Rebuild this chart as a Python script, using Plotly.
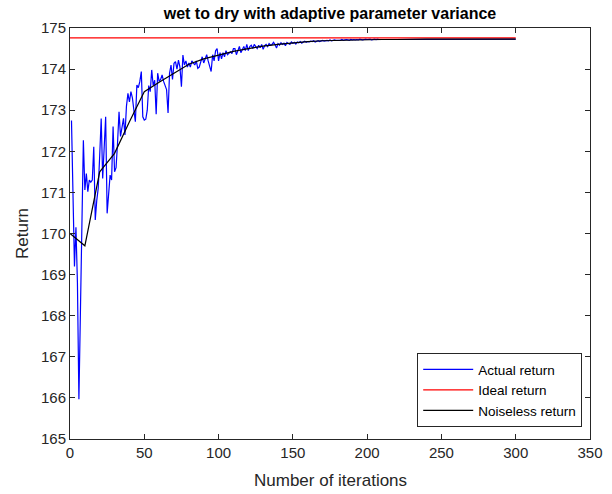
import plotly.graph_objects as go

# Actual (noisy) return per iteration, iterations 1..300
iterations = list(range(1, 301))
actual_return = [
    172.75, 171.0, 169.2, 170.15, 168.8, 165.97, 168.1, 170.2, 172.27, 171.06,
    171.46, 171.02, 171.3, 171.25, 171.3, 172.11, 170.33, 170.8, 171.1, 171.9,
    172.8, 171.34, 172.1, 172.84, 170.49, 171.0, 171.42, 171.3, 172.6, 171.5,
    171.6, 172.2, 172.96, 172.36, 172.56, 172.8, 172.4, 173.1, 173.41, 173.2,
    173.45, 173.3, 173.0, 172.72, 173.61, 173.55, 173.7, 173.94, 172.84, 172.76,
    172.78, 173.0, 173.6, 173.45, 173.98, 173.6, 173.73, 172.9, 173.9, 173.7,
    173.75, 173.86, 173.7, 173.6, 173.5, 172.93, 173.9, 174.1, 173.75, 174.14,
    174.18, 174.0, 174.22, 174.05, 173.57, 174.34, 174.1, 174.2, 174.05, 174.15,
    174.05, 174.2, 174.15, 174.1, 174.2, 174.02, 174.05, 174.2, 174.3, 174.15,
    174.25, 174.35, 174.2, 174.05, 173.94, 174.35, 174.2, 174.45, 174.5, 174.2,
    174.4, 174.25, 174.4, 174.3, 174.45, 174.35, 174.4, 174.42, 174.38, 174.5,
    174.5, 174.35, 174.45, 174.55, 174.4, 174.5, 174.55, 174.45, 174.6, 174.45,
    174.55, 174.58, 174.5, 174.6, 174.55, 174.5, 174.58, 174.52, 174.6, 174.48,
    174.57, 174.6, 174.55, 174.62, 174.58, 174.6, 174.65, 174.6, 174.51, 174.62,
    174.58, 174.64, 174.6, 174.63, 174.57, 174.65, 174.62, 174.6, 174.66, 174.63,
    174.65, 174.61, 174.66, 174.64, 174.67, 174.63, 174.66, 174.68, 174.65, 174.67,
    174.66, 174.68, 174.67, 174.69, 174.66, 174.68, 174.69, 174.67, 174.69, 174.7,
    174.68, 174.69, 174.7, 174.69, 174.71, 174.69, 174.7, 174.71, 174.7, 174.7,
    174.71, 174.7, 174.72, 174.7, 174.71, 174.72, 174.71, 174.7, 174.72, 174.71,
    174.72, 174.71, 174.72, 174.71, 174.73, 174.72, 174.71, 174.72, 174.73, 174.72,
    174.72, 174.73, 174.71, 174.72, 174.73, 174.72, 174.73, 174.72, 174.72, 174.73,
    174.72, 174.73, 174.72, 174.73, 174.72, 174.73, 174.73, 174.72, 174.73, 174.73,
    174.73, 174.72, 174.73, 174.73, 174.73, 174.72, 174.73, 174.73, 174.73, 174.73,
    174.73, 174.73, 174.72, 174.73, 174.73, 174.73, 174.73, 174.73, 174.72, 174.73,
    174.73, 174.73, 174.73, 174.73, 174.73, 174.73, 174.73, 174.72, 174.73, 174.73,
    174.73, 174.73, 174.73, 174.73, 174.73, 174.73, 174.73, 174.73, 174.73, 174.73,
    174.73, 174.73, 174.73, 174.73, 174.73, 174.73, 174.73, 174.73, 174.73, 174.73,
    174.73, 174.73, 174.73, 174.73, 174.73, 174.73, 174.73, 174.73, 174.73, 174.73,
    174.73, 174.73, 174.73, 174.73, 174.73, 174.73, 174.73, 174.73, 174.73, 174.73,
    174.73, 174.73, 174.73, 174.73, 174.73, 174.73, 174.73, 174.73, 174.73, 174.73,
]

# Ideal return (constant reference level)
ideal_x = [0, 300]
ideal_return = [174.76, 174.76]

# Noiseless return, evaluated every 10 iterations
noiseless_x = [0, 10, 20, 30, 40, 50, 60, 70, 80, 90, 100, 110, 120, 130, 140, 150,
               160, 170, 180, 190, 200, 210, 220, 230, 240, 250, 260, 270, 280, 290, 300]
noiseless_return = [170.0, 169.7, 171.5, 171.95, 172.72, 173.45, 173.68, 173.9, 174.12,
                    174.25, 174.34, 174.43, 174.5, 174.56, 174.6, 174.64, 174.67, 174.69,
                    174.7, 174.71, 174.72, 174.72, 174.72, 174.73, 174.73, 174.73, 174.73,
                    174.73, 174.73, 174.73, 174.73]

x_ticks = [0, 50, 100, 150, 200, 250, 300, 350]
y_ticks = [165, 166, 167, 168, 169, 170, 171, 172, 173, 174, 175]

FONT = "Liberation Sans, Arial, Helvetica, sans-serif"
AXIS_COLOR = "#262626"

fig = go.Figure()
fig.add_trace(go.Scatter(x=iterations, y=actual_return, mode="lines",
                         name="Actual return", line=dict(color="#0000ff", width=1.2)))
fig.add_trace(go.Scatter(x=ideal_x, y=ideal_return, mode="lines",
                         name="Ideal return", line=dict(color="#ff0000", width=1.2)))
fig.add_trace(go.Scatter(x=noiseless_x, y=noiseless_return, mode="lines",
                         name="Noiseless return", line=dict(color="#000000", width=1.2)))

axis_common = dict(
    showline=True, linecolor=AXIS_COLOR, linewidth=1, mirror="allticks",
    ticks="inside", ticklen=5, tickcolor=AXIS_COLOR, tickwidth=1,
    showgrid=False, zeroline=False, automargin=False,
    tickfont=dict(family=FONT, size=15, color=AXIS_COLOR),
)

fig.update_layout(
    width=612, height=494,
    margin=dict(l=70, r=22, t=28, b=55),
    paper_bgcolor="white", plot_bgcolor="white",
    font=dict(family=FONT, color=AXIS_COLOR),
    title=dict(text="<b>wet to dry with adaptive parameter variance</b>",
               x=0.5392, xanchor="center", y=0.985, yanchor="top",
               font=dict(family=FONT, size=16, color="#000000")),
    xaxis=dict(range=[0, 350], tickvals=x_ticks, **axis_common),
    yaxis=dict(range=[165, 175], tickvals=y_ticks, **axis_common,
               title=dict(text="Return", standoff=8,
                          font=dict(family=FONT, size=17, color=AXIS_COLOR))),
    legend=dict(x=0.985, xanchor="right", y=0.029, yanchor="bottom",
                bgcolor="white", bordercolor=AXIS_COLOR, borderwidth=1,
                font=dict(family=FONT, size=13.5, color="#000000"),
                itemwidth=50, tracegroupgap=0),
    showlegend=True,
)

# x-axis title placed below the tick labels
fig.add_annotation(text="Number of iterations", xref="paper", yref="paper",
                   x=0.5, y=-0.1, xanchor="center", yanchor="middle",
                   showarrow=False, font=dict(family=FONT, size=17, color=AXIS_COLOR))

fig.write_html("out.html")
